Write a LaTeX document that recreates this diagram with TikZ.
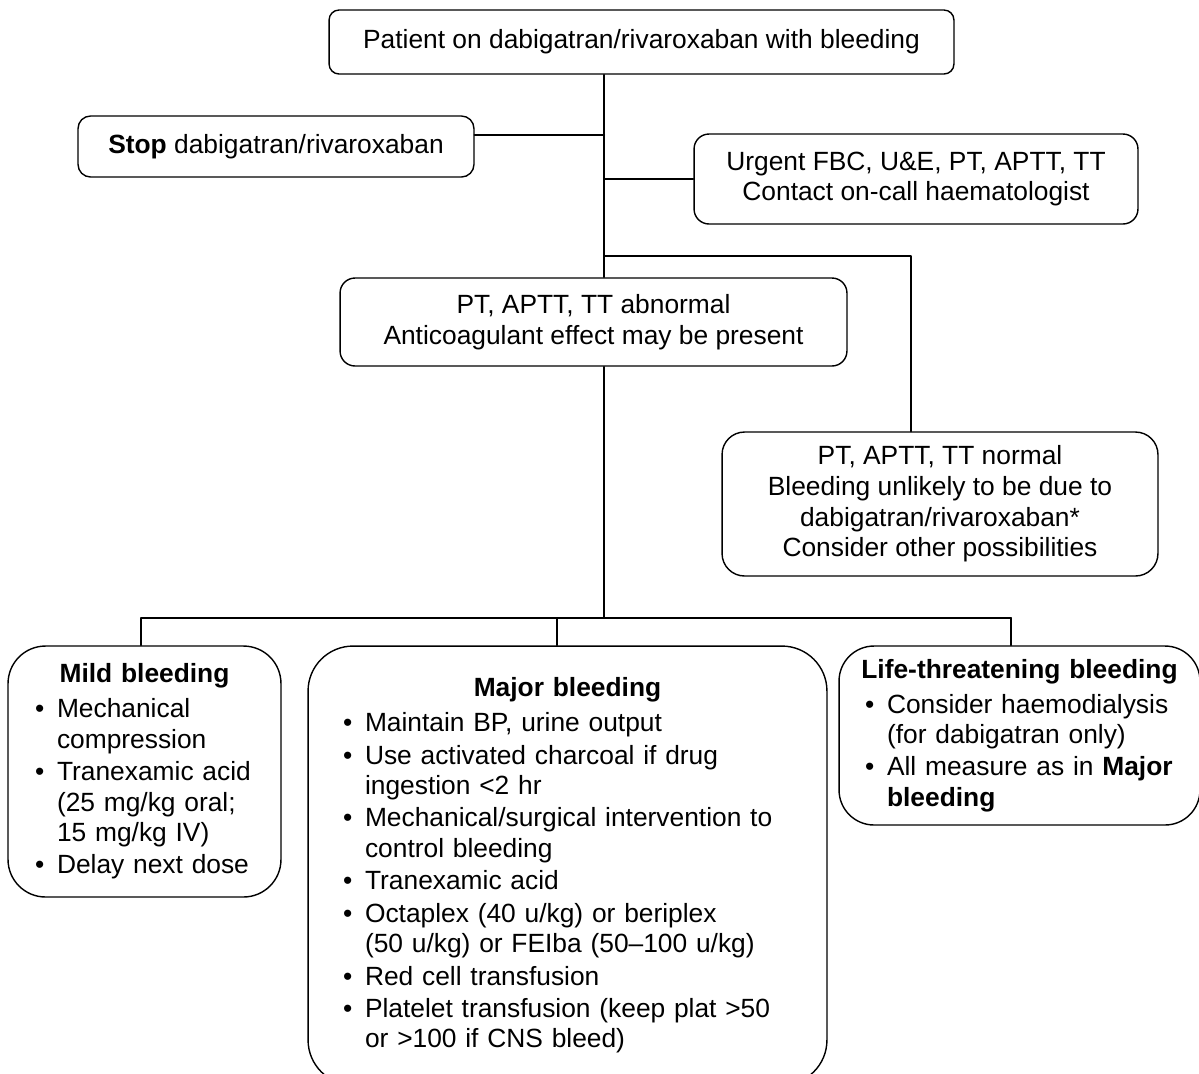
\documentclass[tikz,border=0pt]{standalone}
\usepackage{fontspec}
\setmainfont{Liberation Sans}

% gạch đầu dòng trong các ô cuối
\newcommand{\bul}[1]{\par\hangindent=0.44cm\hangafter=1\noindent\makebox[0.44cm][l]{\textbullet}#1}
\newcommand{\boxhead}[1]{{\centering\bfseries #1\par}\vspace{1.5pt}\leftskip=0.31cm\parskip=1pt}

\begin{document}
\begin{tikzpicture}[x=0.02cm, y=-0.02cm, line width=0.8pt, line join=round, line cap=round,
	font=\fontsize{15}{17.4}\selectfont,
	box/.style={draw, rounded corners=#1, align=center, inner sep=0pt},
	box/.default=0.25cm,
	listbox/.style={draw, rounded corners=#1, align=left, inner sep=0pt},
	bar/.style={line width=1.1pt}]
	\useasboundingbox (0,0) rectangle (1199,1073);
	\coordinate (trunk) at (604,0); %trục chính
	\coordinate (fork) at (911,256);
	\coordinate (d1) at (141,618);
	\coordinate (d2) at (557,618);
	\coordinate (d3) at (1011,618);
	\node[box=0.2cm, minimum width=12.5cm, minimum height=1.28cm] (top) at (641.5,42) {Patient on dabigatran/rivaroxaban with bleeding};
	\node[box, minimum width=7.92cm, minimum height=1.22cm] (stop) at (276,146.5) {\textbf{Stop} dabigatran/rivaroxaban};
	\node[box=0.3cm, minimum width=8.88cm, minimum height=1.8cm] (urg) at (916,179) {Urgent FBC, U\&E, PT, APTT, TT\\Contact on-call haematologist};
	\node[box=0.3cm, minimum width=10.14cm, minimum height=1.76cm] (abn) at (593.5,322) {PT, APTT, TT abnormal\\Anticoagulant effect may be present};
	\node[box=0.45cm, minimum width=8.72cm, minimum height=2.88cm] (norm) at (940,504) {PT, APTT, TT normal\\Bleeding unlikely to be due to\\dabigatran/rivaroxaban*\\Consider other possibilities};
	\node[listbox=0.75cm, text width=5cm, minimum width=5.46cm, minimum height=5.02cm] (mild) at (144.5,771.5) {%
		\boxhead{Mild bleeding}
		\bul{Mechanical\newline compression}
		\bul{Tranexamic acid\newline (25 mg/kg oral;\newline 15 mg/kg IV)}
		\bul{Delay next dose}\par};
	\node[listbox=0.9cm, text width=9.6cm, minimum width=10.38cm, minimum height=8.78cm] (major) at (567.5,865.5) {%
		\boxhead{Major bleeding}
		\bul{Maintain BP, urine output}
		\bul{Use activated charcoal if drug\newline ingestion <2 hr}
		\bul{Mechanical/surgical intervention to\newline control bleeding}
		\bul{Tranexamic acid}
		\bul{Octaplex (40 u/kg) or beriplex\newline (50 u/kg) or FEIba (50--100 u/kg)}
		\bul{Red cell transfusion}
		\bul{Platelet transfusion (keep plat >50\newline or >100 if CNS bleed)}\par};
	\node[listbox=0.7cm, text width=6.8cm, minimum width=7.22cm, minimum height=3.58cm] (life) at (1019.5,735.5) {%
		\boxhead{Life-threatening bleeding}
		\bul{Consider haemodialysis\newline (for dabigatran only)}
		\bul{All measure as in \textbf{Major}\newline \textbf{bleeding}}\par};
	\coordinate (s) at ([yshift=0.23cm]stop.east);
	\draw (top.south -| trunk) -- (abn.north -| trunk);
	\draw[line width=1.4pt] (s) -- (s -| trunk);
	\draw (urg.west) -- (urg.west -| trunk);
	\draw[bar] (fork -| trunk) -- (fork) -- (fork |- norm.north);
	\draw (abn.south -| trunk) -- (d1 -| trunk);
	\draw[bar] (d1) -- (d3);
	\draw (d1) -- (d1 |- mild.north);
	\draw (d2) -- (d2 |- major.north);
	\draw (d3) -- (d3 |- life.north);
\end{tikzpicture}
\end{document}
